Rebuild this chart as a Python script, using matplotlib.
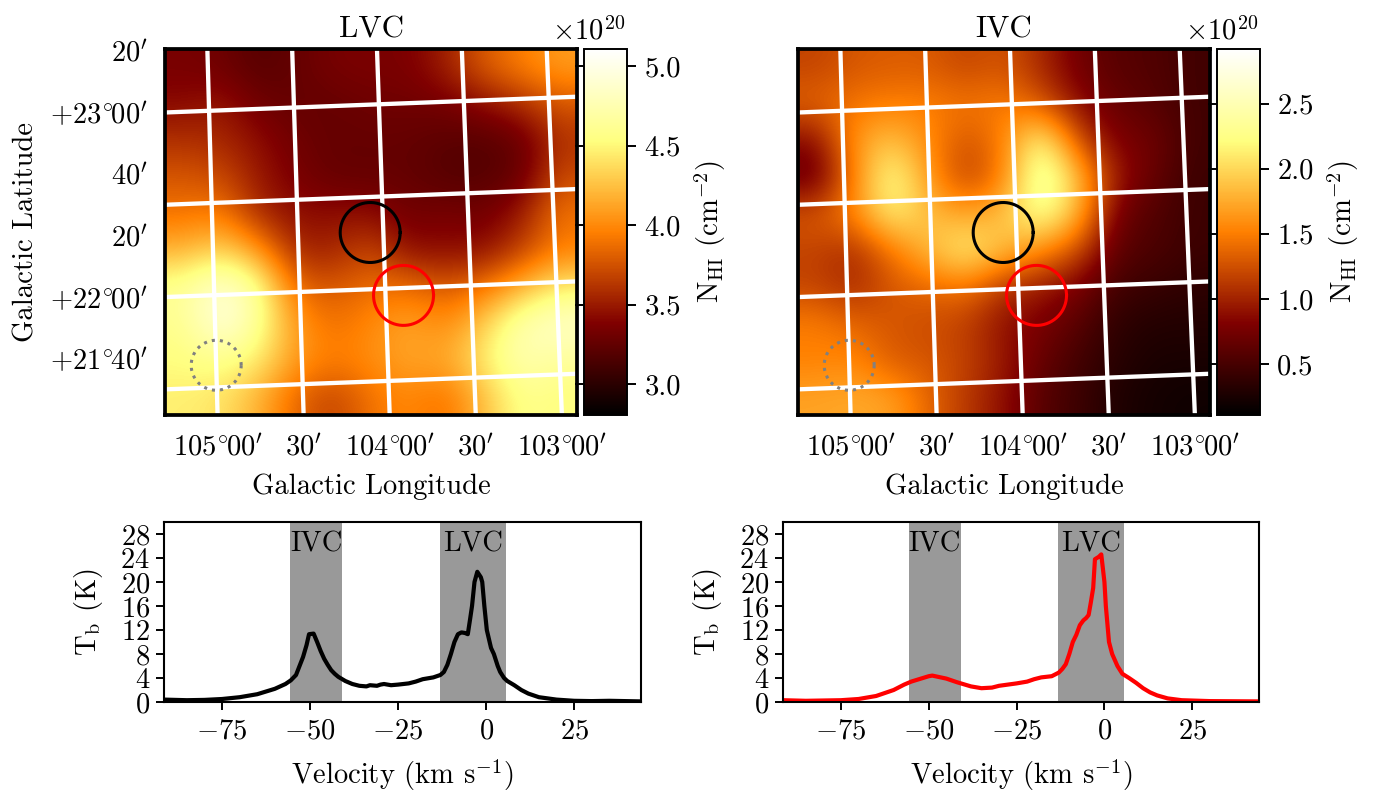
import numpy as np
import matplotlib
matplotlib.use('Agg')
import matplotlib.pyplot as plt

plt.rcParams.update({'font.family': ['cmr10', 'DejaVu Sans'], 'mathtext.fontset': 'cm',
                     'axes.unicode_minus': False, 'axes.formatter.use_mathtext': True})

# N_HI maps (1e20 cm^-2), rows top to bottom, columns left to right
lvc_map = [
    [3.35, 3.31, 3.19, 3.26, 3.35, 3.36, 3.36, 3.52, 3.79, 3.95, 4.09],
    [3.42, 3.49, 3.31, 3.26, 3.26, 3.31, 3.31, 3.33, 3.44, 3.58, 3.77],
    [3.60, 3.56, 3.44, 3.31, 3.26, 3.26, 3.26, 3.21, 3.19, 3.26, 3.60],
    [3.77, 3.72, 3.49, 3.35, 3.26, 3.26, 3.26, 3.19, 3.19, 3.26, 3.72],
    [3.90, 3.95, 3.56, 3.44, 3.44, 3.44, 3.31, 3.35, 3.31, 3.49, 3.90],
    [4.18, 4.36, 4.07, 3.54, 3.54, 3.72, 3.44, 3.44, 3.44, 3.67, 3.95],
    [4.64, 4.94, 4.64, 3.84, 3.77, 3.88, 3.88, 3.77, 3.90, 4.18, 4.46],
    [4.59, 4.99, 4.64, 4.07, 3.88, 4.00, 4.13, 4.00, 4.30, 4.75, 4.88],
    [4.53, 4.59, 4.46, 4.07, 3.95, 4.02, 4.13, 4.13, 4.46, 4.76, 4.64],
    [4.46, 4.41, 4.18, 3.84, 3.67, 3.90, 4.00, 3.88, 4.23, 4.59, 4.53],
]
ivc_map = [
    [1.18, 1.29, 1.32, 1.32, 1.18, 1.29, 1.03, 0.73, 0.59, 0.56, 0.47],
    [1.37, 1.46, 1.51, 1.51, 1.46, 1.51, 1.29, 0.87, 0.67, 0.59, 0.47],
    [0.85, 1.65, 1.90, 1.57, 1.25, 1.51, 2.30, 1.23, 0.78, 0.73, 0.47],
    [0.65, 1.51, 2.35, 1.65, 1.12, 1.51, 2.60, 1.85, 0.95, 0.67, 0.44],
    [1.29, 1.57, 2.20, 1.85, 1.70, 1.85, 2.40, 1.80, 0.73, 0.56, 0.44],
    [1.18, 1.03, 1.46, 1.85, 2.20, 1.85, 1.57, 1.23, 0.61, 0.53, 0.44],
    [1.18, 1.03, 1.29, 1.37, 1.46, 1.09, 0.95, 0.78, 0.47, 0.42, 0.36],
    [1.51, 1.37, 1.29, 1.23, 1.15, 0.89, 0.78, 0.59, 0.36, 0.30, 0.30],
    [1.51, 1.57, 1.29, 1.29, 1.18, 0.95, 0.67, 0.47, 0.33, 0.25, 0.25],
    [1.71, 1.74, 1.71, 1.37, 1.12, 0.89, 0.59, 0.44, 0.28, 0.22, 0.19],
]
lvc_range = (2.805, 5.107)
ivc_range = (0.108, 2.92)
lvc_cbar_ticks = [3.0, 3.5, 4.0, 4.5, 5.0]
ivc_cbar_ticks = [0.5, 1.0, 1.5, 2.0, 2.5]

# world coordinates (deg)
grid_lons = [105.0, 104.5, 104.0, 103.5, 103.0]
grid_lats = [23.0, 22.5, 22.0, 21.5]
DEG = r'^{\!\circ\!}\!'
lon_labels = ['$105' + DEG + r'00^\prime$', r'$30^\prime$', '$104' + DEG + r'00^\prime$', r'$30^\prime$', '$103' + DEG + r'00^\prime$']
lat_ticks = [23 + 1/3, 23.0, 22 + 2/3, 22 + 1/3, 22.0, 21 + 2/3]
lat_labels = [r'$20^\prime$', '$+23' + DEG + r'00^\prime$', r'$40^\prime$', r'$20^\prime$', '$+22' + DEG + r'00^\prime$', '$+21' + DEG + r'40^\prime$']
black_region = (104.077, 22.3075)
red_region = (103.895, 21.96)
grey_region = (105.0, 21.62)

# spectra
v_black = [-91.5, -85, -80, -75, -70, -65, -60, -57, -55.5, -54, -53, -52, -51, -50.3, -49, -48, -47, -46, -45, -44, -43, -42,
           -40, -38, -36, -34, -33, -31, -30, -29, -27, -25, -22, -20, -18, -15, -13, -12, -11, -10, -9, -8, -7, -6, -5.2,
           -4.5, -4, -3.3, -2.5, -1.5, -1.1, -0.5, 0.2, 1.4, 2.2, 3.3, 4, 5.1, 6, 8, 10, 12, 15, 20, 25, 30, 35, 44]
t_black = [0.4, 0.3, 0.35, 0.5, 0.8, 1.3, 2.2, 3.0, 3.6, 4.5, 6.0, 7.5, 9.5, 11.3, 11.4, 10.0, 8.5, 7.2, 6.2, 5.3, 4.7, 4.2,
           3.5, 3.0, 2.7, 2.6, 2.8, 2.7, 2.9, 3.0, 2.8, 2.9, 3.1, 3.4, 3.8, 4.1, 4.5, 5.0, 6.2, 8.0, 10.0, 11.3, 11.6, 11.5, 11.3,
           14.0, 16.0, 20.0, 21.7, 20.8, 20.0, 16.0, 12.0, 9.0, 8.0, 6.0, 5.0, 4.0, 3.5, 2.8, 2.0, 1.4, 0.8, 0.4, 0.2, 0.15, 0.2, 0.1]
v_red = [-91.5, -85, -75, -70, -65, -60, -57, -55, -50, -49, -45, -42, -38, -35, -32, -30, -25, -22, -20, -18, -15, -13, -12,
         -11, -10, -9, -8, -7, -6, -5.2, -4.5, -3.9, -3.2, -2.7, -1.6, -0.9, 0, 0.4, 1.3, 2.2, 3.7, 5.1, 7, 9, 11, 13, 15, 18, 22, 30, 44]
t_red = [0.3, 0.2, 0.3, 0.5, 1.0, 2.0, 2.9, 3.4, 4.3, 4.4, 3.9, 3.3, 2.6, 2.3, 2.4, 2.7, 3.1, 3.4, 3.8, 4.1, 4.3, 4.9, 5.5,
         6.3, 8.0, 10.0, 11.2, 12.8, 13.6, 14.0, 14.5, 16.5, 19.0, 23.8, 24.2, 24.6, 20.0, 16.0, 10.0, 8.0, 6.0, 4.7, 4.0, 3.2, 2.3, 1.6, 1.1, 0.6, 0.3, 0.15, 0.1]
ivc_band = (-55.7, -40.8)
lvc_band = (-13.2, 5.6)
vel_ticks = [-75, -50, -25, 0, 25]
tb_ticks = list(range(0, 29, 4))

W, H = 1376, 791
fig = plt.figure(figsize=(W/100, H/100), dpi=100)

def box(x0, y0, x1, y1):
    return [x0/W, 1 - y1/H, (x1-x0)/W, (y1-y0)/H]

MAP_W, MAP_H = 412, 366
def project(lon, lat):
    """Tangent-like projection from (lon, lat) to map pixels."""
    dl = np.asarray(lon, float) - 104.0
    db = np.asarray(lat, float) - 22.25
    x = 218.7 - 170.75*dl + db*(-6.4 + 1.25*dl)
    y = 193.6 + 6.5*dl - 184.4*db
    return x, y

FS = 20.6
def draw_map(x0, data, rng, cticks, title, show_lat):
    ax = fig.add_axes(box(x0, 49, x0+MAP_W, 415))
    im = ax.imshow(data, cmap='afmhot', vmin=rng[0], vmax=rng[1], interpolation='bicubic',
                   extent=(0, MAP_W, MAP_H, 0), aspect='auto')
    lat_s = np.linspace(20.5, 24.5, 50)
    lon_s = np.linspace(102, 106, 50)
    for lon in grid_lons:
        ax.plot(*project(np.full_like(lat_s, lon), lat_s), color='white', lw=3.1)
    for lat in grid_lats:
        ax.plot(*project(lon_s, np.full_like(lon_s, lat)), color='white', lw=3.1)
    ax.set_xlim(0, MAP_W); ax.set_ylim(MAP_H, 0)
    lon_pos = []
    for lon in grid_lons:
        px, py = project(np.full_like(lat_s, lon), lat_s)
        lon_pos.append(np.interp(MAP_H, py[::-1], px[::-1]))
    ax.set_xticks(lon_pos, lon_labels, fontsize=FS)
    if show_lat:
        lat_pos = []
        for lat in lat_ticks:
            lat_pos.append(project(105.3, lat)[1])
        ax.set_yticks(lat_pos, lat_labels, fontsize=FS)
        ax.set_ylabel('Galactic Latitude', fontsize=FS)
        ax.yaxis.set_label_coords(-0.305, 0.5)
    else:
        ax.set_yticks([])
    ax.tick_params(axis='x', length=0, pad=14)
    ax.tick_params(axis='y', length=0, pad=12)
    ax.set_xlabel('Galactic Longitude', fontsize=FS, labelpad=9)
    ax.set_title(title, fontsize=22.3, pad=8)
    for s in ax.spines.values():
        s.set_linewidth(2.7)
    # regions
    th = np.linspace(0, 2*np.pi, 200)
    for (lon, lat), col, ls, r, lw in [(black_region, 'black', '-', 30, 2.2),
                                       (red_region, 'red', '-', 30, 2.2),
                                       (grey_region, 'grey', ':', 25, 2.2)]:
        cx, cy = project(lon, lat)
        ax.plot(cx + r*np.cos(th), cy + r*np.sin(th), color=col, ls=ls, lw=lw)
    # colorbar
    cax = fig.add_axes(box(x0+419, 49, x0+462, 415))
    cb = fig.colorbar(im, cax=cax)
    cb.set_ticks(cticks)
    cb.set_ticklabels(['%.1f' % t for t in cticks], fontsize=FS)
    cax.tick_params(left=True, right=True, length=6.5, width=1.4, pad=6)
    cb.outline.set_linewidth(1.4)
    cb.set_label(r'$\mathrm{N_{HI}}$ (cm$^{-2}$)', fontsize=FS, labelpad=8)
    cax.text(0.97, 1.01, r'$\times10^{20}$', transform=cax.transAxes, ha='right', va='bottom', fontsize=FS)

draw_map(165, lvc_map, lvc_range, lvc_cbar_ticks, 'LVC', True)
draw_map(798, ivc_map, ivc_range, ivc_cbar_ticks, 'IVC', False)

def draw_spec(x0, x1, vel, tb, color):
    ax = fig.add_axes(box(x0, 522, x1, 702))
    ax.axvspan(*ivc_band, color='0.6', lw=0)
    ax.axvspan(*lvc_band, color='0.6', lw=0)
    ax.plot(vel, tb, color=color, lw=3.0)
    ax.set_xlim(-91.5, 44); ax.set_ylim(0, 30)
    ax.set_xticks(vel_ticks, ['$%d$' % v for v in vel_ticks], fontsize=FS)
    ax.set_yticks(tb_ticks, ['$%d$' % v for v in tb_ticks], fontsize=FS)
    ax.tick_params(length=6, width=1.4, pad=6)
    ax.yaxis.set_tick_params(pad=4)
    ax.set_xlabel(r'Velocity (km s$^{-1}$)', fontsize=FS, labelpad=9)
    ax.set_ylabel(r'$\mathrm{T_b}$ (K)', fontsize=FS, labelpad=11)
    for s in ax.spines.values():
        s.set_linewidth(1.5)
    for band, name in [(ivc_band, 'IVC'), (lvc_band, 'LVC')]:
        ax.text(sum(band)/2, 26.3, name, ha='center', va='center', fontsize=FS)

draw_spec(164, 641, v_black, t_black, 'black')
draw_spec(783, 1259, v_red, t_red, 'red')

fig.savefig('out.png', dpi=100)
